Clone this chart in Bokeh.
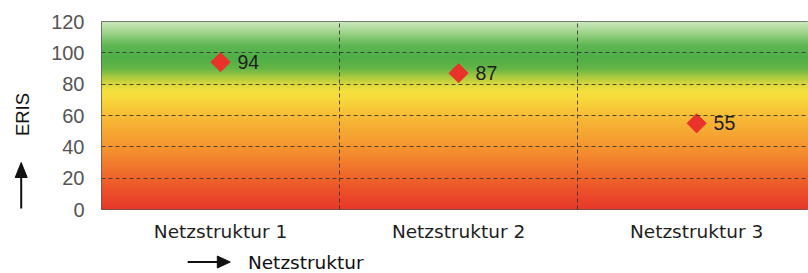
import numpy as np
from bokeh.plotting import figure
from bokeh.layouts import row, column
from bokeh.models import Range1d, FixedTicker, ColumnDataSource
from bokeh.core.properties import value
from bokeh.embed import file_html
from bokeh.resources import INLINE

# ---- data ----
categories = ["Netzstruktur 1", "Netzstruktur 2", "Netzstruktur 3"]
eris_values = [94, 87, 55]
value_labels = ["94", "87", "55"]
y_ticks = [0, 20, 40, 60, 80, 100, 120]
y_label = "ERIS"
x_label = "Netzstruktur"

W, H = 808, 273
LW = 45            # left strip (ERIS + arrow)
MH = 245           # main figure height
BH = H - MH        # bottom strip (x title + arrow)
INK = "#111111"

def blank(width, height):
    f = figure(width=width, height=height, output_backend="svg", toolbar_location=None,
               x_range=Range1d(0, width), y_range=Range1d(0, height),
               min_border=0, min_border_left=0, min_border_right=0,
               min_border_top=0, min_border_bottom=0)
    f.axis.visible = False
    f.grid.visible = False
    f.outline_line_color = None
    f.background_fill_color = "white"
    f.border_fill_color = "white"
    return f

# ---- main chart ----
MAIN_W = W - LW
p = figure(width=MAIN_W, height=MH, output_backend="svg", toolbar_location=None,
           x_range=Range1d(0, 2.97), y_range=Range1d(0, 120),
           min_border_left=101 - LW, min_border_right=0, min_border_top=21,
           min_border_bottom=MH - 209)
p.background_fill_color = "white"
p.border_fill_color = "white"
p.outline_line_color = "#555555"
p.outline_line_width = 1

# gradient background
stops_v = [0, 10, 20, 30, 40, 50, 60, 68, 75, 80, 85, 90, 97, 105, 113, 120]
stops_c = ["#e8392a", "#ec4d2a", "#ef642b", "#f27e2d", "#f5952f", "#f6a933", "#f7bd36",
           "#f8d23a", "#f6e23e", "#dcd83c", "#a4c840", "#66b646", "#4fae48", "#5fb853",
           "#9fd48a", "#cde9c0"]
def hex2rgb(h):
    return [int(h[i:i + 2], 16) for i in (1, 3, 5)]
rgb = np.array([hex2rgb(c) for c in stops_c], dtype=float)
ys = np.linspace(0, 120, 480)
img = np.empty((len(ys), 1), dtype=np.uint32)
view = img.view(dtype=np.uint8).reshape((len(ys), 1, 4))
for k in range(3):
    view[:, 0, k] = np.interp(ys, stops_v, rgb[:, k]).astype(np.uint8)
view[:, 0, 3] = 255
p.image_rgba(image=[img], x=0, y=0, dw=3, dh=120)

n = len(categories)
xpos = [i + 0.5 for i in range(n)]

# grid
p.ygrid.ticker = FixedTicker(ticks=y_ticks[1:-1])
p.xgrid.ticker = FixedTicker(ticks=list(range(1, n)))
for g in (p.xgrid, p.ygrid):
    g.grid_line_color = "#333333"
    g.grid_line_alpha = 0.85
    g.grid_line_dash = "4 3"
    g.grid_line_width = 1
    g.level = "glyph"

# markers + labels
src = ColumnDataSource(dict(x=xpos, y=eris_values, t=value_labels))
p.scatter("x", "y", source=src, marker="square", size=13.5, angle=np.pi / 4,
          fill_color="#e8322a", line_color="#e8322a")
p.text("x", "y", text="t", source=src, x_offset=17, text_baseline="middle",
       text_font_size="19.5px", text_color="#1e1e1e", text_font=value("Liberation Sans"))

# y axis
p.yaxis.ticker = FixedTicker(ticks=y_ticks)
p.yaxis.axis_line_color = None
p.yaxis.major_tick_line_color = None
p.yaxis.minor_tick_line_color = None
p.yaxis.major_label_standoff = 11
p.yaxis.major_label_text_font = "Liberation Sans"
p.yaxis.major_label_text_font_size = "20px"
p.yaxis.major_label_text_color = "#555555"

# x axis
p.xaxis.ticker = FixedTicker(ticks=xpos)
p.xaxis.major_label_overrides = {x: c for x, c in zip(xpos, categories)}
p.xaxis.axis_line_color = None
p.xaxis.major_tick_line_color = None
p.xaxis.minor_tick_line_color = None
p.xaxis.major_label_standoff = 5
p.xaxis.major_label_text_font = "DejaVu Sans"
p.xaxis.major_label_text_font_size = "18.5px"
p.xaxis.major_label_text_color = "#1e1e1e"

# ---- left strip: ERIS + upward arrow (pixel-like coords, y up) ----
left = blank(LW, H)
left.text(x=[21.5], y=[H - 114], text=[y_label], angle=np.pi / 2,
          text_align="center", text_baseline="middle",
          text_font=value("Liberation Sans"), text_font_size="18.5px", text_color=INK)
left.segment(x0=[20.7], y0=[H - 208], x1=[20.7], y1=[H - 174], line_width=2, line_color=INK)
left.patch(x=[14.7, 20.7, 26.7], y=[H - 177, H - 162, H - 177], fill_color=INK, line_color=INK)

# ---- bottom strip: rightward arrow + x title ----
bottom = blank(MAIN_W, BH)
yc = BH - (261.5 - MH)
bottom.segment(x0=[138 - LW], y0=[yc], x1=[172 - LW], y1=[yc], line_width=2, line_color=INK)
bottom.patch(x=[170 - LW, 184 - LW, 170 - LW], y=[yc + 6, yc, yc - 6], fill_color=INK, line_color=INK)
bottom.text(x=[203 - LW], y=[yc], text=[x_label], text_align="left", text_baseline="middle",
            text_font=value("DejaVu Sans"), text_font_size="18.5px", text_color=INK)

layout = row(left, column(p, bottom, spacing=0), spacing=0)

open("out.html", "w").write(file_html(layout, INLINE))
